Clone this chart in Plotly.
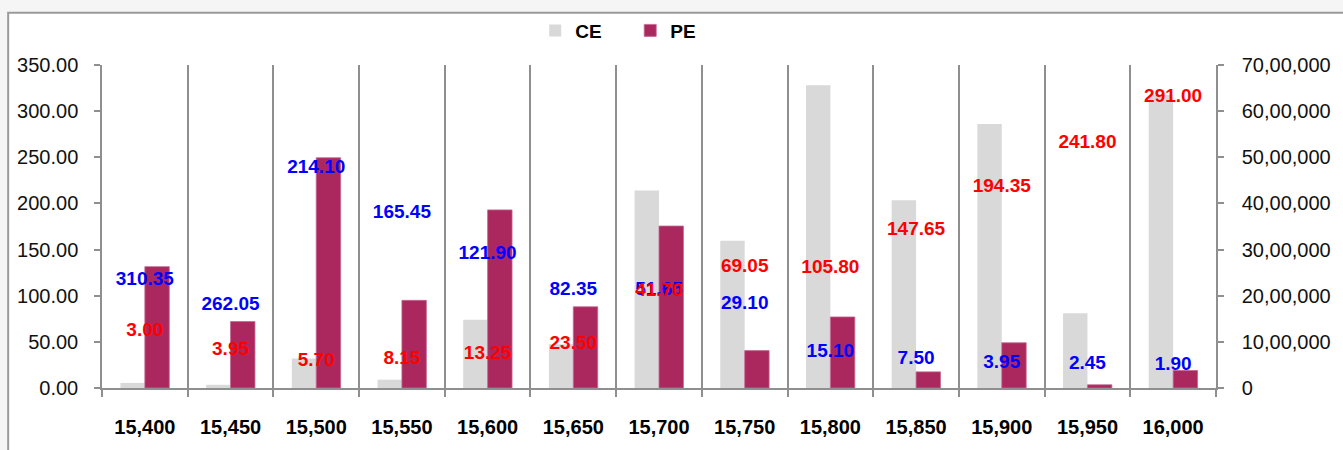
import plotly.graph_objects as go

# ---------------- data ----------------
strikes = ["15,400", "15,450", "15,500", "15,550", "15,600", "15,650", "15,700",
           "15,750", "15,800", "15,850", "15,900", "15,950", "16,000"]
ce_oi = [110000, 70000, 640000, 180000, 1480000, 950000, 4280000,
         3190000, 6560000, 4070000, 5720000, 1620000, 6350000]
pe_oi = [2630000, 1440000, 4990000, 1900000, 3860000, 1760000, 3510000,
         810000, 1540000, 350000, 980000, 70000, 380000]
ce_ltp = [310.35, 262.05, 214.10, 165.45, 121.90, 82.35, 51.65,
          29.10, 15.10, 7.50, 3.95, 2.45, 1.90]
pe_ltp = [3.00, 3.95, 5.70, 8.15, 13.25, 23.50, 41.70,
          69.05, 105.80, 147.65, 194.35, 241.80, 291.00]

# label anchor heights on the price (left) axis
ce_label_y = [117.3, 89.9, 238.3, 189.3, 145.1, 105.9, 106.2, 90.7, 38.4, 30.9, 26.6, 25.9, 24.5]
pe_label_y = [61.1, 40.8, 29.1, 31.2, 36.6, 47.2, 104.9, 130.5, 129.4, 170.7, 217.7, 265.7, 315.4]

oi_ticks = [0, 1000000, 2000000, 3000000, 4000000, 5000000, 6000000, 7000000]
oi_ticktext = ["0", "10,00,000", "20,00,000", "30,00,000", "40,00,000",
               "50,00,000", "60,00,000", "70,00,000"]
price_ticks = [0, 50, 100, 150, 200, 250, 300, 350]

# ---------------- figure ----------------
FONT = "Liberation Sans, Arial, sans-serif"
GRID = "#8f8f8f"
xi = list(range(len(strikes)))

fig = go.Figure()
fig.add_trace(go.Bar(x=xi, y=ce_oi, name="CE", marker=dict(color="#d9d9d9", line=dict(width=0)),
                     yaxis="y", hoverinfo="skip"))
fig.add_trace(go.Bar(x=xi, y=pe_oi, name="PE", marker=dict(color="#ab285f", line=dict(width=0.8, color="#c4668f")),
                     yaxis="y", hoverinfo="skip"))
fig.add_trace(go.Scatter(x=xi, y=ce_label_y, mode="text", text=[f"{v:.2f}" for v in ce_ltp],
                         textposition="middle center",
                         textfont=dict(family=FONT, size=19, color="#0000ff", weight="bold"),
                         yaxis="y2", showlegend=False, hoverinfo="skip"))
fig.add_trace(go.Scatter(x=xi, y=pe_label_y, mode="text", text=[f"{v:.2f}" for v in pe_ltp],
                         textposition="middle center",
                         textfont=dict(family=FONT, size=19, color="#ff0000", weight="bold"),
                         yaxis="y2", showlegend=False, hoverinfo="skip"))

L, R, T, B = 102, 125, 64, 58
W, H = 1343, 450
pw, ph = W - L - R, H - T - B

fig.update_layout(
    width=W, height=H,
    margin=dict(l=L, r=R, t=T, b=B),
    paper_bgcolor="#f5f5f5",
    plot_bgcolor="rgba(0,0,0,0)",
    barmode="group",
    bargap=0.43,
    bargroupgap=0,
    font=dict(family=FONT, color="#111111"),
    showlegend=True,
    legend=dict(orientation="h", x=(536 - L) / pw, xanchor="left", y=(H - B - 29) / ph,
                yanchor="middle", font=dict(family=FONT, size=19, color="#000000", weight="bold"),
                bgcolor="rgba(0,0,0,0)", itemwidth=30, traceorder="normal", entrywidth=50),
    xaxis=dict(
        range=[-0.5, len(strikes) - 0.5],
        tickmode="array", tickvals=xi, ticktext=strikes,
        tickfont=dict(family=FONT, size=20, color="#000000", weight="bold"),
        ticks="", showgrid=False, zeroline=False,
        showline=True, linecolor=GRID, linewidth=1.5,
        ticklabelstandoff=20,
        minor=dict(tickvals=[i - 0.5 for i in range(len(strikes) + 1)], ticks="outside",
                   ticklen=7, tickcolor=GRID, tickwidth=1.5,
                   showgrid=True, gridcolor=GRID, gridwidth=1.5),
        fixedrange=True,
    ),
    yaxis=dict(
        side="right", range=[0, 7000000],
        tickmode="array", tickvals=oi_ticks, ticktext=oi_ticktext,
        tickfont=dict(family=FONT, size=20, color="#111111"),
        ticks="outside", ticklen=6, tickcolor=GRID, tickwidth=1.5,
        showline=True, linecolor=GRID, linewidth=1.5,
        showgrid=False, zeroline=False, ticklabelstandoff=14,
    ),
    yaxis2=dict(
        overlaying="y", side="left", range=[0, 350],
        tickmode="array", tickvals=price_ticks, ticktext=[f"{v:.2f}" for v in price_ticks],
        tickfont=dict(family=FONT, size=20, color="#111111"),
        ticks="outside", ticklen=6, tickcolor=GRID, tickwidth=1.5,
        showline=True, linecolor=GRID, linewidth=1.5,
        showgrid=False, zeroline=False, ticklabelstandoff=12,
    ),
    shapes=[dict(type="rect", xref="paper", yref="paper", layer="below",
                 x0=(8 - L) / pw, x1=(W + 20 - L) / pw,
                 y0=(H - B - (H + 20)) / ph, y1=(H - B - 11) / ph,
                 fillcolor="#ffffff", line=dict(color="#9a9a9a", width=2))],
)

fig.write_html("out.html")
